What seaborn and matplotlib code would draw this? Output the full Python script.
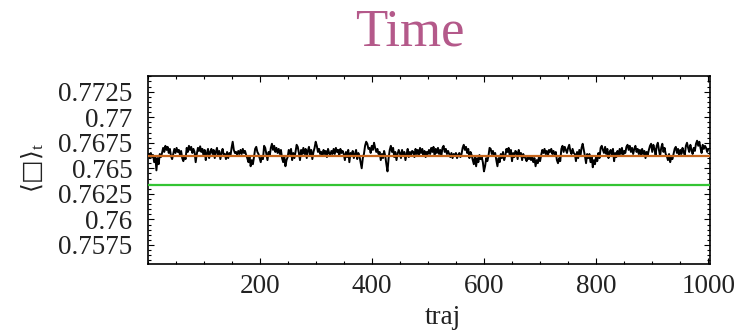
import numpy as np
import pandas as pd
import matplotlib
matplotlib.use("Agg")
import matplotlib.pyplot as plt
from matplotlib.ticker import MultipleLocator, FixedLocator
import seaborn as sns

# ---- data (values in units of 1e-5 above 0.76) ----
chunk1 = [640, 600, 650, 610, 630, 560, 620, 480, 600, 540, 640, 610, 650,
          700, 660, 720, 680, 710, 650, 690, 620, 590, 640,
          690, 650, 700, 660, 680, 630, 670, 600, 570, 620, 590,
          700, 660, 720, 680, 710, 650, 690, 660, 560, 640, 700, 670, 715, 660, 690,
          620, 680, 580, 650, 690, 600, 660,
          690, 640, 680, 600, 660, 700, 620, 670, 590, 650, 690, 630,
          640, 590, 660, 600, 650, 620, 700, 760, 680, 650, 660, 630, 670, 640]
chunk2 = [680, 640, 690, 650, 670, 630, 600, 560, 620, 520, 580, 540, 610,
          690, 710, 660, 640, 600, 560, 620, 590, 720, 700, 640, 580, 660, 620,
          700, 740, 680, 720, 660, 700, 650, 690, 640, 680,
          600, 560, 620, 520, 580, 610, 680, 640, 690, 580, 650, 600, 660,
          730, 710, 650, 580, 680, 640,
          700, 640, 690, 600, 670, 710, 630, 680, 590, 660,
          700, 760, 720, 660, 690, 640,
          660, 620, 680, 640, 670, 610, 690, 650, 630, 670, 640]
chunk3 = [690, 640, 700, 660, 680, 620, 690, 650, 670,
          640, 580, 660, 610, 680, 560, 650, 620, 670, 600, 640, 680, 590, 650, 620,
          560, 500, 600, 640, 720, 760, 740, 690,
          700, 650, 720, 680, 750, 700, 660, 690, 640,
          660, 580, 640, 600, 670, 620, 540, 470, 600,
          680, 720, 660, 700, 610, 660, 580, 640, 680,
          650, 600, 680, 620, 660, 580, 640, 690, 610, 660, 630, 670,
          660, 610, 690, 640, 680, 620, 700, 650, 690, 630, 670, 610, 660, 640]
chunk4 = [680, 640, 700, 660, 710, 620, 690, 650, 700, 640, 680, 620,
          700, 720, 660, 690, 640, 670,
          640, 610, 650, 600, 640, 620, 650, 600, 630, 650, 610, 640,
          700, 730, 680, 710, 650, 690, 600, 660, 630,
          580, 540, 620, 520, 600, 560, 630, 590, 610,
          560, 470, 520, 600, 570, 620, 700, 690, 640, 670, 620, 650,
          580, 520, 600, 560, 640, 600, 660, 580, 620,
          690, 660, 700, 620, 680, 570, 650, 610, 670,
          660, 590, 680, 620, 650, 580, 640, 610]
chunk5 = [600, 570, 620, 590, 610, 580,
          620, 560, 600, 520, 580, 550, 610, 570, 630,
          680, 650, 690, 640, 670, 620, 680, 660, 690, 640, 670, 630, 660,
          580, 550, 600, 570,
          690, 720, 660, 710, 680, 650, 700, 730, 670, 640, 690, 650,
          640, 570, 660, 600, 680, 620, 700, 740, 680, 620, 550, 640, 600,
          640, 560, 620, 510, 580, 540, 620, 570, 650, 600,
          700, 720, 680, 650, 710, 640, 690, 600, 660,
          680, 620, 690, 570, 650, 610, 670, 630]
chunk6 = [690, 640, 700, 620, 670, 650,
          710, 730, 680, 720, 660, 700, 640, 690, 720, 660, 690, 640,
          680, 620, 690, 640, 670, 600, 660, 630, 680,
          720, 740, 660, 730, 690, 630, 720, 750, 680, 620, 700, 740, 660, 700, 640,
          620, 580, 640, 560, 610, 590, 640,
          690, 710, 650, 690, 620, 680, 640, 700, 660, 630,
          720, 750, 700, 660, 730, 680, 640, 700, 670,
          740, 770, 720, 760, 700, 650, 730, 690, 720, 700, 660, 690]

series_units = chunk1 + chunk2 + chunk3 + chunk4 + chunk5 + chunk6
series_values = [0.76 + v * 1e-5 for v in series_units]
traj = np.linspace(1, 1000, len(series_values))

orange_level = 0.76623
green_level = 0.76337

y_ticks = [0.7575, 0.76, 0.7625, 0.765, 0.7675, 0.77, 0.7725]
y_tick_labels = ["0.7575", "0.76", "0.7625", "0.765", "0.7675", "0.77", "0.7725"]
x_ticks = [200, 400, 600, 800, 1000]
x_tick_labels = ["200", "400", "600", "800", "1000"]

title_text = "Time"
x_label = "traj"
y_label = "⟨□⟩$_{t}$"

# ---- style ----
sns.set_theme(style="white")
plt.rcParams["font.family"] = ["Liberation Serif", "DejaVu Serif", "DejaVu Sans"]
plt.rcParams["mathtext.fontset"] = "custom"
plt.rcParams["mathtext.rm"] = "Liberation Serif"
plt.rcParams["mathtext.it"] = "Liberation Serif"

W, H = 746, 335
fig = plt.figure(figsize=(W / 100, H / 100), dpi=100)
ax = fig.add_axes([148 / W, 1 - 264 / H, (710 - 148) / W, (264 - 76) / H])

df = pd.DataFrame({"traj": traj, "value": series_values})
sns.lineplot(data=df, x="traj", y="value", ax=ax, color="black",
             linewidth=1.4, estimator=None, sort=False)
ax.axhline(orange_level, color="#C8661C", linewidth=1.6, zorder=3)
ax.axhline(green_level, color="#33C433", linewidth=1.6, zorder=3)

ax.set_xlim(0, 1003)
ax.set_ylim(0.75564, 0.77403)

ax.xaxis.set_major_locator(FixedLocator(x_ticks))
ax.set_xticklabels(x_tick_labels)
ax.xaxis.set_minor_locator(MultipleLocator(50))
ax.yaxis.set_major_locator(FixedLocator(y_ticks))
ax.set_yticklabels(y_tick_labels)
ax.yaxis.set_minor_locator(MultipleLocator(0.0005))

ax.tick_params(which="both", direction="in", top=True, right=True,
               bottom=True, left=True, color="black", width=0.8)
ax.tick_params(which="major", length=4)
ax.tick_params(which="minor", length=2.5)
ax.tick_params(axis="y", which="major", labelsize=19.5, pad=11, labelcolor="#222222")
ax.tick_params(axis="x", which="major", labelsize=19.5, pad=7, labelcolor="#222222")

for s in ax.spines.values():
    s.set_visible(True)
    s.set_color("black")
    s.set_linewidth(1.2)

ax.set_xlabel("")
ax.set_ylabel("")

fig.text(410 / W, 1 - 46 / H, title_text, fontsize=38, color="#B4598A",
         ha="center", va="baseline")
fig.text(443 / W, 1 - 318 / H, x_label, fontsize=19.5, color="#222222",
         ha="center", va="center")
fig.text(33 / W, 1 - 168 / H, y_label, fontsize=18, color="#222222",
         ha="center", va="center", rotation=90,
         family=["DejaVu Sans", "Liberation Serif"])

fig.savefig("out.png", dpi=100)
